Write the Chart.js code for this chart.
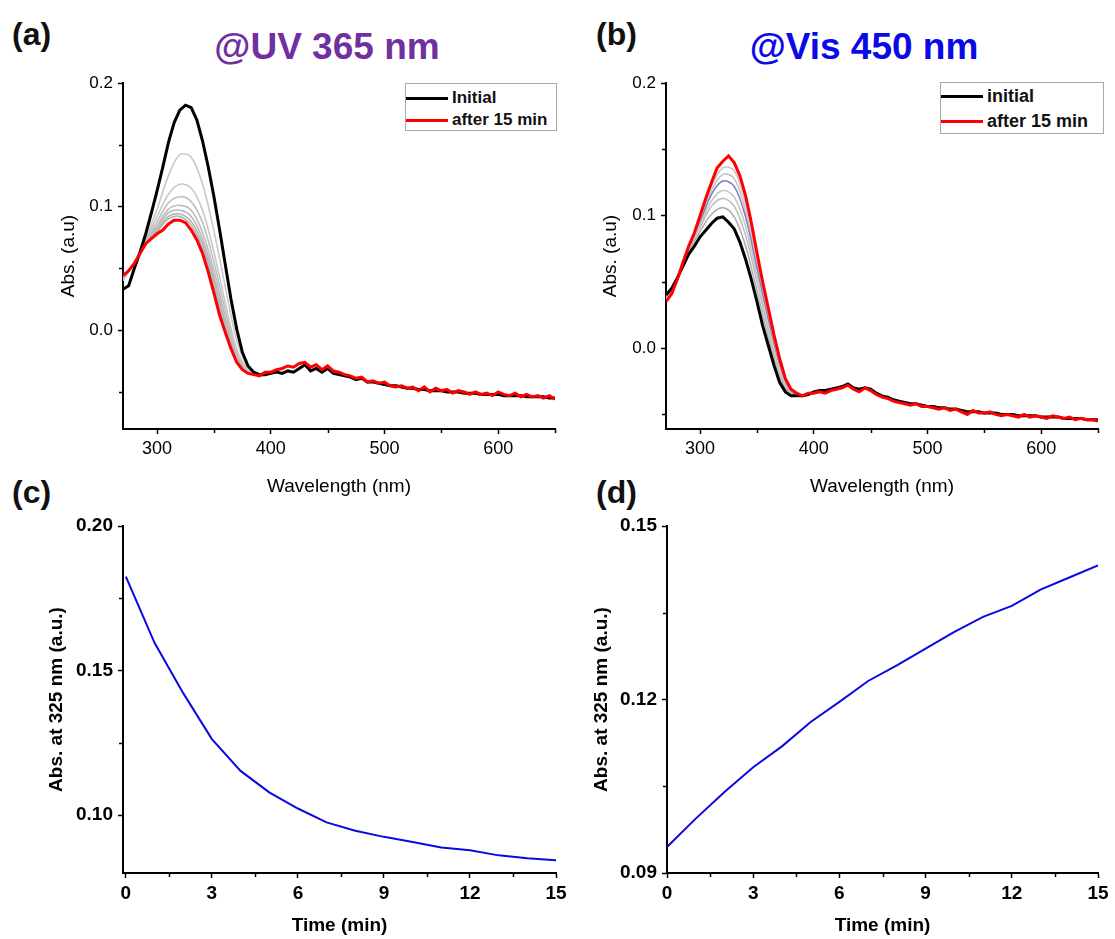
<!DOCTYPE html>
<html>
<head>
<meta charset="utf-8">
<title>UV-Vis switching</title>
<script src="https://cdn.jsdelivr.net/npm/chart.js@4.4.1/dist/chart.umd.min.js"></script>
<style>
    body { margin: 0; width: 1115px; height: 939px; position: relative; overflow: hidden; background: #fff; font-family: "Liberation Sans", Arial, sans-serif; }
    canvas { position: absolute; }
    .panel-label { position: absolute; font-weight: bold; font-size: 32px; color: #111; line-height: 1; }
    .panel-title { position: absolute; font-weight: bold; font-size: 37px; white-space: nowrap; line-height: 1; transform: translate(-50%, -50%); }
    .legend { position: absolute; box-sizing: border-box; border: 1px solid #a8a8a8; background: #fff; font-weight: bold; color: #111; }
    .legend .row { display: flex; align-items: center; white-space: nowrap; }
    .legend .ln { display: inline-block; width: 42px; height: 3px; margin-right: 4px; }
</style>
</head>
<body>

<div class="panel-label" style="left:12px; top:18px;">(a)</div>
<div class="panel-label" style="left:596px; top:18px;">(b)</div>
<div class="panel-label" style="left:12px; top:476px;">(c)</div>
<div class="panel-label" style="left:596px; top:476px;">(d)</div>

<div class="panel-title" style="left:327px; top:46px; color:#7030a0;">@UV 365 nm</div>
<div class="panel-title" style="left:864px; top:46px; color:#0a0ae8;">@Vis 450 nm</div>

<canvas id="chartA" width="515" height="440" style="left:55px; top:60px;"></canvas>
<canvas id="chartB" width="516" height="440" style="left:597px; top:60px;"></canvas>
<canvas id="chartC" width="528" height="439" style="left:43px; top:500px;"></canvas>
<canvas id="chartD" width="525" height="439" style="left:588px; top:500px;"></canvas>

<div class="legend" style="left:405px; top:83px; width:152px; height:48px; padding-top:3px; font-size:17px;">
    <div class="row" style="height:22px;"><span class="ln" style="background:#000;"></span>Initial</div>
    <div class="row" style="height:22px;"><span class="ln" style="background:#f00;"></span>after 15 min</div>
</div>
<div class="legend" style="left:940px; top:82px; width:164px; height:52px; padding-top:1px; font-size:18px;">
    <div class="row" style="height:25px;"><span class="ln" style="background:#000;"></span>initial</div>
    <div class="row" style="height:25px;"><span class="ln" style="background:#f00;"></span>after 15 min</div>
</div>

<script>
// Wavelength axis of the spectra (nm)
const wavelengths = [
    270, 275, 280, 285, 290, 295, 300, 305, 310, 315,
    320, 325, 330, 335, 340, 345, 350, 355, 360, 365,
    370, 375, 380, 385, 390, 395, 400, 405, 410, 415,
    420, 425, 430, 435, 440, 445, 450, 455, 460, 465,
    470, 475, 480, 485, 490, 495, 500, 505, 510, 515,
    520, 525, 530, 535, 540, 545, 550, 555, 560, 565,
    570, 575, 580, 585, 590, 595, 600, 605, 610, 615,
    620, 625, 630, 635, 640, 645, 650
];

// (a) irradiation at 365 nm
const uvInitial = [
    0.033, 0.036, 0.050, 0.063, 0.078, 0.095, 0.113, 0.132, 0.152, 0.168,
    0.178, 0.182, 0.180, 0.170, 0.153, 0.132, 0.108, 0.081, 0.053, 0.025,
    0.001, -0.018, -0.029, -0.034, -0.036, -0.036, -0.035, -0.034, -0.035, -0.033,
    -0.034, -0.031, -0.028, -0.033, -0.031, -0.034, -0.031, -0.035, -0.036, -0.037,
    -0.038, -0.040, -0.039, -0.042, -0.042, -0.043, -0.044, -0.045, -0.045, -0.046,
    -0.047, -0.047, -0.048, -0.048, -0.049, -0.049, -0.049, -0.050, -0.050, -0.050,
    -0.051, -0.051, -0.051, -0.052, -0.052, -0.052, -0.052, -0.053, -0.053, -0.053,
    -0.053, -0.054, -0.054, -0.054, -0.054, -0.055, -0.055
];
const uvFinal = [
    0.044, 0.048, 0.054, 0.062, 0.070, 0.074, 0.078, 0.081, 0.086, 0.089,
    0.089, 0.087, 0.081, 0.073, 0.062, 0.047, 0.030, 0.012, -0.002, -0.015,
    -0.026, -0.032, -0.035, -0.036, -0.037, -0.034, -0.034, -0.032, -0.031, -0.029,
    -0.030, -0.027, -0.026, -0.030, -0.028, -0.032, -0.029, -0.033, -0.034, -0.036,
    -0.037, -0.039, -0.038, -0.042, -0.041, -0.043, -0.042, -0.045, -0.046, -0.045,
    -0.047, -0.046, -0.049, -0.046, -0.050, -0.047, -0.049, -0.048, -0.051, -0.049,
    -0.050, -0.052, -0.050, -0.052, -0.051, -0.053, -0.050, -0.052, -0.053, -0.051,
    -0.054, -0.052, -0.054, -0.053, -0.055, -0.053, -0.056
];

// (b) irradiation at 450 nm
const visInitial = [
    0.040, 0.045, 0.053, 0.062, 0.071, 0.077, 0.084, 0.089, 0.094, 0.098,
    0.099, 0.095, 0.090, 0.080, 0.067, 0.052, 0.035, 0.017, 0.002, -0.013,
    -0.026, -0.033, -0.036, -0.036, -0.036, -0.035, -0.033, -0.032, -0.032, -0.031,
    -0.030, -0.029, -0.027, -0.030, -0.031, -0.030, -0.031, -0.034, -0.036, -0.037,
    -0.039, -0.040, -0.041, -0.042, -0.042, -0.043, -0.044, -0.044, -0.045, -0.045,
    -0.046, -0.046, -0.047, -0.048, -0.048, -0.048, -0.049, -0.049, -0.049, -0.050,
    -0.050, -0.050, -0.051, -0.051, -0.051, -0.051, -0.052, -0.052, -0.052, -0.052,
    -0.053, -0.053, -0.053, -0.053, -0.054, -0.054, -0.054
];
const visFinal = [
    0.035, 0.041, 0.052, 0.065, 0.077, 0.087, 0.100, 0.113, 0.125, 0.136,
    0.141, 0.145, 0.140, 0.130, 0.115, 0.095, 0.072, 0.050, 0.030, 0.010,
    -0.008, -0.023, -0.031, -0.034, -0.036, -0.034, -0.034, -0.033, -0.034, -0.032,
    -0.031, -0.030, -0.028, -0.031, -0.033, -0.030, -0.032, -0.035, -0.037, -0.038,
    -0.040, -0.041, -0.042, -0.043, -0.042, -0.044, -0.044, -0.045, -0.046, -0.045,
    -0.047, -0.046, -0.048, -0.050, -0.047, -0.049, -0.049, -0.048, -0.050, -0.051,
    -0.050, -0.051, -0.052, -0.050, -0.052, -0.051, -0.052, -0.053, -0.051, -0.052,
    -0.053, -0.052, -0.054, -0.053, -0.054, -0.054, -0.055
];

// Intermediate scans (only the band region, they sit under the end curves elsewhere)
const scanWavelengths = [270, 280, 290, 300, 310, 320, 330, 340, 350, 360, 370, 380, 390];
const uvScans = [
    [0.040, 0.055, 0.075, 0.098, 0.125, 0.142, 0.140, 0.118, 0.080, 0.035, -0.008, -0.030, -0.036],
    [0.041, 0.055, 0.074, 0.092, 0.110, 0.118, 0.115, 0.097, 0.063, 0.022, -0.015, -0.032, -0.036],
    [0.042, 0.055, 0.073, 0.088, 0.103, 0.108, 0.104, 0.087, 0.055, 0.016, -0.018, -0.033, -0.036],
    [0.043, 0.055, 0.072, 0.085, 0.098, 0.101, 0.097, 0.079, 0.048, 0.011, -0.020, -0.033, -0.036],
    [0.043, 0.055, 0.072, 0.083, 0.095, 0.097, 0.092, 0.074, 0.043, 0.007, -0.022, -0.034, -0.036],
    [0.044, 0.055, 0.071, 0.081, 0.092, 0.094, 0.088, 0.070, 0.039, 0.004, -0.023, -0.034, -0.036],
    [0.044, 0.054, 0.071, 0.080, 0.090, 0.092, 0.085, 0.066, 0.035, 0.001, -0.024, -0.034, -0.036]
];
const uvScanColors = ['#c8c8c8', '#c8c8c8', '#c0c0c0', '#bcbcbc', '#b8b8b8', '#b4b4b4', '#b0b0b0'];

const visScans = [
    [0.039, 0.053, 0.073, 0.088, 0.101, 0.106, 0.099, 0.077, 0.043, 0.008, -0.022, -0.035, -0.036],
    [0.038, 0.053, 0.074, 0.091, 0.107, 0.113, 0.107, 0.085, 0.050, 0.013, -0.019, -0.034, -0.036],
    [0.037, 0.052, 0.075, 0.093, 0.111, 0.119, 0.114, 0.092, 0.055, 0.017, -0.016, -0.034, -0.036],
    [0.037, 0.052, 0.075, 0.095, 0.116, 0.126, 0.122, 0.099, 0.060, 0.021, -0.014, -0.033, -0.036],
    [0.036, 0.052, 0.076, 0.097, 0.119, 0.131, 0.128, 0.104, 0.064, 0.024, -0.012, -0.033, -0.036],
    [0.036, 0.052, 0.076, 0.098, 0.122, 0.136, 0.134, 0.109, 0.068, 0.027, -0.010, -0.032, -0.036]
];
const visScanColors = ['#b0b0b0', '#c0c0c0', '#c8c8c8', '#8080c0', '#c8c8c8', '#c8c8c8'];

// (c) and (d) kinetics at 325 nm
const times = [0, 1, 2, 3, 4, 5, 6, 7, 8, 9, 10, 11, 12, 13, 14, 15];
const uvKinetics = [0.1825, 0.1596, 0.1422, 0.1263, 0.1153, 0.1079, 0.1023, 0.0975,
    0.0946, 0.0925, 0.0907, 0.0888, 0.0879, 0.0861, 0.0851, 0.0844];
const visKinetics = [0.0945, 0.0994, 0.1040, 0.1083, 0.1119, 0.1161, 0.1196, 0.1232,
    0.1259, 0.1288, 0.1317, 0.1343, 0.1362, 0.1390, 0.1411, 0.1432];

// Tick values
const wlTicks = [300, 400, 500, 600];
const wlMinor = [350, 450, 550, 650];
const absTicks = [0.0, 0.1, 0.2];
const absMinor = [-0.05, 0.05, 0.15];
const timeTicks = [0, 3, 6, 9, 12, 15];
const timeMinor = [1.5, 4.5, 7.5, 10.5, 13.5];
const uvKinTicks = [0.10, 0.15, 0.20];
const uvKinMinor = [0.125, 0.175];
const visKinTicks = [0.09, 0.12, 0.15];
const visKinMinor = [0.105, 0.135];

const FONT = '"Liberation Sans", Arial, sans-serif';

// Short outward minor ticks, drawn through the chart's own scales
const minorTicksPlugin = {
    id: 'minorTicks',
    afterDraw(chart, args, opts) {
        const ctx = chart.ctx;
        const xs = chart.scales.x, ys = chart.scales.y;
        ctx.save();
        ctx.strokeStyle = '#000';
        ctx.lineWidth = 1.5;
        (opts.x || []).forEach(v => {
            const px = Math.round(xs.getPixelForValue(v)) + 0.5;
            ctx.beginPath();
            ctx.moveTo(px, xs.top);
            ctx.lineTo(px, xs.top + 4);
            ctx.stroke();
        });
        (opts.y || []).forEach(v => {
            const py = Math.round(ys.getPixelForValue(v)) + 0.5;
            ctx.beginPath();
            ctx.moveTo(ys.right, py);
            ctx.lineTo(ys.right - 4, py);
            ctx.stroke();
        });
        ctx.restore();
    }
};
Chart.register(minorTicksPlugin);

function toPoints(xs, ys) {
    return xs.map((x, i) => ({ x: x, y: ys[i] }));
}

function fixedTicks(values) {
    return function(scale) {
        scale.ticks = values.map(v => ({ value: v }));
    };
}

function axis(opts) {
    return {
        type: 'linear',
        min: opts.min,
        max: opts.max,
        afterBuildTicks: fixedTicks(opts.ticks),
        afterFit: function(scale) {
            if (opts.width) scale.width = opts.width;
            if (opts.height) scale.height = opts.height;
            scale.paddingLeft = 0; scale.paddingRight = 0;
            scale.paddingTop = 0; scale.paddingBottom = 0;
        },
        border: { display: true, color: '#000', width: 2 },
        grid: { drawOnChartArea: false, drawTicks: true, tickLength: 5, color: '#000', tickWidth: 1.5 },
        ticks: {
            color: '#000',
            padding: opts.padding,
            font: { family: FONT, size: opts.tickSize, weight: opts.bold ? 'bold' : 'normal' },
            callback: v => v.toFixed(opts.digits)
        },
        title: {
            display: true,
            text: opts.title,
            color: '#000',
            padding: { top: 2, bottom: 2 },
            font: { family: FONT, size: opts.titleSize, weight: opts.bold ? 'bold' : 'normal' }
        }
    };
}

function baseOptions(xAxis, yAxis, pad, minor) {
    return {
        responsive: false,
        animation: false,
        devicePixelRatio: 1,
        layout: { padding: pad },
        plugins: {
            legend: { display: false },
            tooltip: { enabled: false },
            minorTicks: minor
        },
        elements: { point: { radius: 0 } },
        scales: { x: xAxis, y: yAxis }
    };
}

function spectrumDatasets(initial, final, scans, scanColors) {
    const sets = [
        { data: toPoints(wavelengths, final), borderColor: '#f00', borderWidth: 3, tension: 0 },
        { data: toPoints(wavelengths, initial), borderColor: '#000', borderWidth: 3, tension: 0 }
    ];
    scans.forEach((s, i) => {
        sets.push({ data: toPoints(scanWavelengths, s), borderColor: scanColors[i], borderWidth: 1.6, tension: 0.35 });
    });
    return sets;
}

// Spectra (a)
new Chart(document.getElementById('chartA'), {
    type: 'line',
    data: { datasets: spectrumDatasets(uvInitial, uvFinal, uvScans, uvScanColors) },
    options: baseOptions(
        axis({ min: 270, max: 650, ticks: wlTicks, digits: 0, height: 71, padding: 4, tickSize: 18, titleSize: 19, title: 'Wavelength (nm)' }),
        axis({ min: -0.08, max: 0.2, ticks: absTicks, digits: 1, width: 68, padding: 5, tickSize: 17, titleSize: 19, title: 'Abs. (a.u)' }),
        { top: 23, right: 15, left: 0, bottom: 0 },
        { x: wlMinor, y: absMinor }
    )
});

// Spectra (b)
new Chart(document.getElementById('chartB'), {
    type: 'line',
    data: { datasets: spectrumDatasets(visInitial, visFinal, visScans, visScanColors) },
    options: baseOptions(
        axis({ min: 270, max: 650, ticks: wlTicks, digits: 0, height: 71, padding: 4, tickSize: 18, titleSize: 19, title: 'Wavelength (nm)' }),
        axis({ min: -0.061, max: 0.2, ticks: absTicks, digits: 1, width: 69, padding: 5, tickSize: 17, titleSize: 19, title: 'Abs. (a.u)' }),
        { top: 23, right: 15, left: 0, bottom: 0 },
        { x: wlMinor, y: absMinor }
    )
});

// Kinetics (c)
new Chart(document.getElementById('chartC'), {
    type: 'line',
    data: { datasets: [{ data: toPoints(times, uvKinetics), borderColor: '#0a0ae0', borderWidth: 2, tension: 0 }] },
    options: baseOptions(
        axis({ min: -0.1, max: 15, ticks: timeTicks, digits: 0, height: 66, padding: 4, tickSize: 19, titleSize: 19, bold: true, title: 'Time (min)' }),
        axis({ min: 0.08, max: 0.2, ticks: uvKinTicks, digits: 2, width: 80, padding: 5, tickSize: 19, titleSize: 19, bold: true, title: 'Abs. at 325 nm (a.u.)' }),
        { top: 26, right: 15, left: 0, bottom: 0 },
        { x: timeMinor, y: uvKinMinor }
    )
});

// Kinetics (d)
new Chart(document.getElementById('chartD'), {
    type: 'line',
    data: { datasets: [{ data: toPoints(times, visKinetics), borderColor: '#0a0ae0', borderWidth: 2, tension: 0 }] },
    options: baseOptions(
        axis({ min: 0, max: 15, ticks: timeTicks, digits: 0, height: 66, padding: 4, tickSize: 19, titleSize: 19, bold: true, title: 'Time (min)' }),
        axis({ min: 0.09, max: 0.15, ticks: visKinTicks, digits: 2, width: 79, padding: 5, tickSize: 19, titleSize: 19, bold: true, title: 'Abs. at 325 nm (a.u.)' }),
        { top: 26, right: 15, left: 0, bottom: 0 },
        { x: timeMinor, y: visKinMinor }
    )
});
</script>
</body>
</html>
